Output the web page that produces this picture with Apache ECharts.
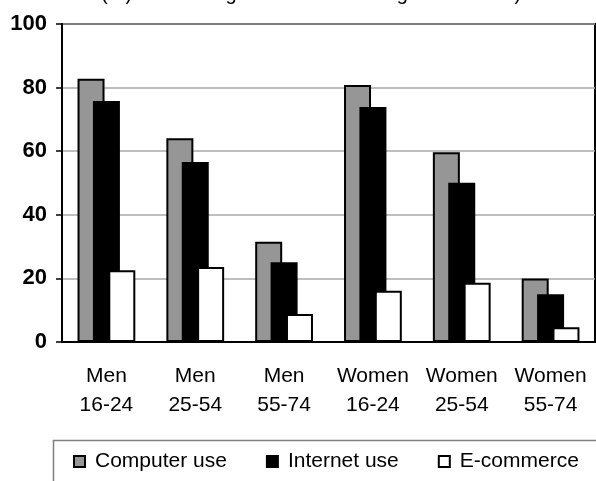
<!DOCTYPE html>
<html>
<head>
<meta charset="utf-8">
<script src="https://cdn.jsdelivr.net/npm/echarts@6/dist/echarts.min.js"></script>
<style>
  html, body { margin: 0; padding: 0; background: #fff; }
  #chart { width: 596px; height: 481px; }
</style>
</head>
<body>
<div id="chart"></div>
<script>
// Population groups (sex and age band) shown along the x axis
const sexes = ['Men', 'Men', 'Men', 'Women', 'Women', 'Women'];
const ageBands = ['16-24', '25-54', '55-74', '16-24', '25-54', '55-74'];

// Share of each group (%)
const computerUse = [82.8, 64.1, 31.5, 80.8, 59.7, 20.0];
const internetUse = [75.8, 56.6, 25.1, 73.9, 50.1, 15.0];
const eCommerce   = [22.6, 23.6, 8.8, 16.1, 18.6, 4.6];

// Value axis ticks
const yTicks = [0, 20, 40, 60, 80, 100];

const seriesNames = ['Computer use', 'Internet use', 'E-commerce'];
const subtitle = '(%) of those aged 16-74 and using the Internet)';

const FONT = '"Liberation Sans", Arial, Helvetica, sans-serif';
const categories = sexes.map((s, i) => s + '\n' + ageBands[i]);

const chart = echarts.init(document.getElementById('chart'), null, { renderer: 'canvas' });

function barSeries(name, values, fill) {
  return {
    name: name,
    type: 'bar',
    data: values,
    barWidth: 27,
    barGap: '-43%',
    itemStyle: { color: fill, borderColor: '#000', borderWidth: 2 },
    emphasis: { disabled: true }
  };
}

chart.setOption({
  animation: false,
  backgroundColor: '#fff',
  textStyle: { fontFamily: FONT },
  grid: {
    left: 62, top: 24, width: 533, height: 318,
    show: true, borderColor: '#000', borderWidth: 2, backgroundColor: 'transparent'
  },
  legend: {
    data: seriesNames,
    left: 73, top: 451,
    padding: 0,
    icon: 'rect',
    itemWidth: 11, itemHeight: 11,
    itemGap: 39,
    selectedMode: false,
    textStyle: { fontSize: 21, color: '#000', fontFamily: FONT, padding: [0, 0, 0, 5] }
  },
  xAxis: {
    type: 'category',
    data: categories,
    axisLine: { show: true, lineStyle: { color: '#000', width: 2 } },
    axisTick: { show: false },
    axisLabel: {
      interval: 0, fontSize: 21, lineHeight: 29, margin: 20,
      color: '#000', fontFamily: FONT
    }
  },
  yAxis: {
    type: 'value',
    min: yTicks[0], max: yTicks[yTicks.length - 1], interval: yTicks[1] - yTicks[0],
    axisLine: { show: true, lineStyle: { color: '#000', width: 2 } },
    axisTick: { show: true, length: 6, lineStyle: { color: '#000', width: 1.5 } },
    axisLabel: {
      fontSize: 22, fontWeight: 'bold', color: '#000', margin: 15, fontFamily: FONT
    },
    splitLine: { show: true, lineStyle: { color: '#a8a8a8', width: 1.5 } }
  },
  series: [
    barSeries(seriesNames[0], computerUse, '#969696'),
    barSeries(seriesNames[1], internetUse, '#000000'),
    barSeries(seriesNames[2], eCommerce, '#ffffff')
  ],
  graphic: [
    {
      type: 'text', left: 101, top: -16, silent: true,
      style: { text: subtitle, fontSize: 20, fontFamily: FONT, fill: '#000' }
    },
    {
      type: 'rect', silent: true,
      shape: { x: 53.5, y: 440.5, width: 700, height: 100 },
      style: { fill: 'none', stroke: '#808080', lineWidth: 1.5 },
      z: -1
    }
  ]
});
</script>
</body>
</html>
